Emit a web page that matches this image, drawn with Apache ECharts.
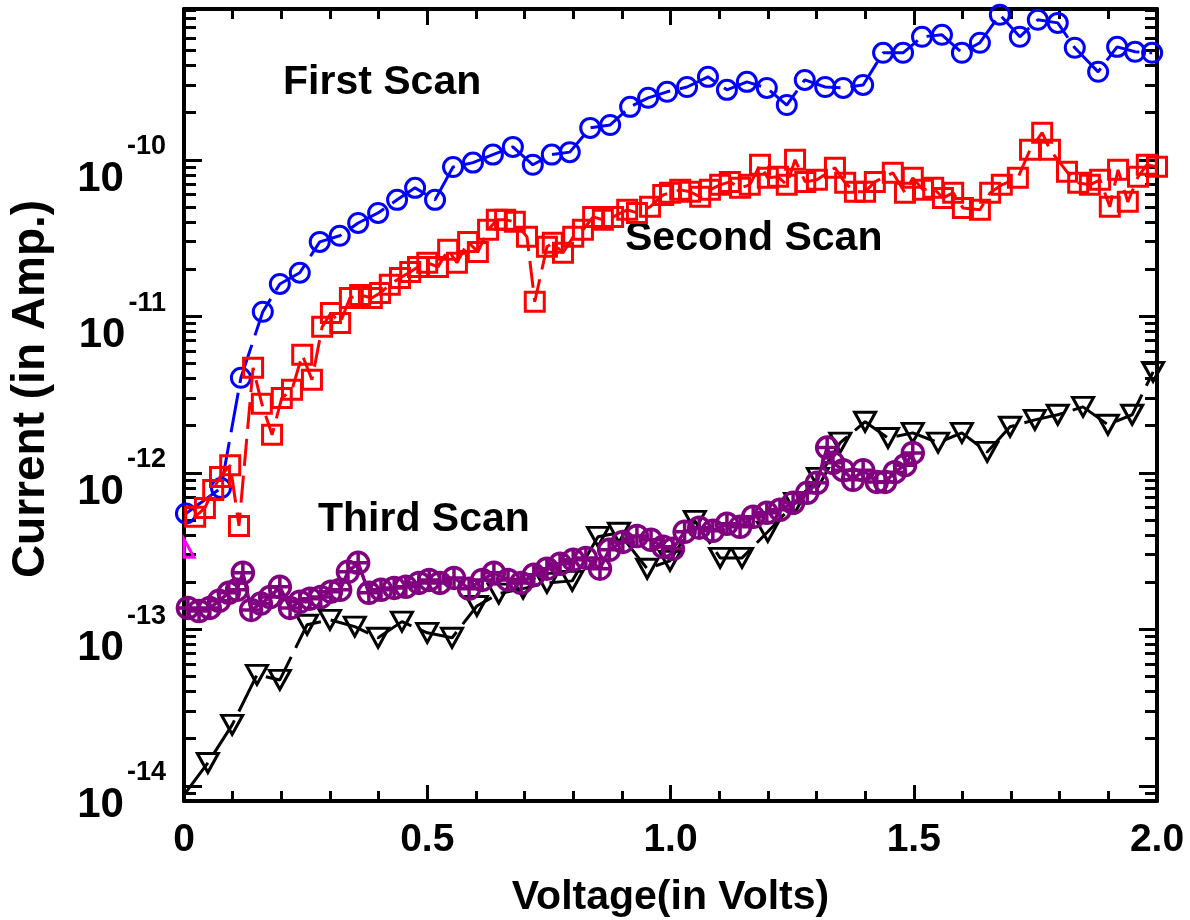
<!DOCTYPE html>
<html>
<head>
<meta charset="utf-8">
<script src="https://cdn.jsdelivr.net/npm/echarts@6/dist/echarts.min.js"></script>
<style>
  html, body { margin: 0; padding: 0; background: #fff; }
  #chart { width: 1190px; height: 920px; }
</style>
</head>
<body>
<div id="chart"></div>
<script>
// ---- Measured I–V data (voltage in V, current in A) ----
const firstV = [0.004, 0.076, 0.117, 0.162, 0.197, 0.238, 0.279, 0.320, 0.358, 0.399,
  0.438, 0.475, 0.516, 0.553, 0.594, 0.635, 0.676, 0.717, 0.756, 0.793,
  0.835, 0.876, 0.917, 0.954, 0.993, 1.034, 1.077, 1.116, 1.157, 1.198,
  1.239, 1.276, 1.318, 1.355, 1.396, 1.437, 1.478, 1.517, 1.558, 1.599,
  1.636, 1.677, 1.718, 1.755, 1.796, 1.831, 1.879, 1.918, 1.955, 1.990];
const firstI = [5.5e-13, 8.0e-13, 4.05e-12, 1.07e-11, 1.61e-11, 1.90e-11, 2.99e-11, 3.27e-11, 3.95e-11, 4.58e-11,
  5.55e-11, 6.62e-11, 5.55e-11, 9.0e-11, 9.6e-11, 1.08e-10, 1.21e-10, 9.3e-11, 1.08e-10, 1.12e-10,
  1.60e-10, 1.67e-10, 2.18e-10, 2.49e-10, 2.72e-10, 2.92e-10, 3.39e-10, 2.80e-10, 3.15e-10, 2.88e-10,
  2.24e-10, 3.24e-10, 2.92e-10, 2.88e-10, 3.01e-10, 4.83e-10, 4.83e-10, 6.11e-10, 6.29e-10, 4.83e-10,
  5.60e-10, 8.45e-10, 6.11e-10, 7.85e-10, 7.50e-10, 5.20e-10, 3.65e-10, 5.27e-10, 4.90e-10, 4.83e-10];

const secondV = [0.023, 0.043, 0.060, 0.074, 0.095, 0.113, 0.142, 0.160, 0.181, 0.201,
  0.222, 0.243, 0.263, 0.284, 0.302, 0.321, 0.341, 0.362, 0.386, 0.403,
  0.423, 0.444, 0.465, 0.481, 0.500, 0.522, 0.543, 0.561, 0.584, 0.604,
  0.625, 0.643, 0.660, 0.680, 0.705, 0.721, 0.746, 0.758, 0.779, 0.800,
  0.820, 0.841, 0.861, 0.882, 0.911, 0.931, 0.958, 0.985, 0.999, 1.020,
  1.040, 1.061, 1.081, 1.102, 1.122, 1.143, 1.163, 1.184, 1.200, 1.221,
  1.239, 1.256, 1.277, 1.301, 1.338, 1.359, 1.379, 1.400, 1.420, 1.457,
  1.482, 1.498, 1.519, 1.540, 1.560, 1.581, 1.601, 1.636, 1.657, 1.681,
  1.714, 1.739, 1.764, 1.780, 1.815, 1.838, 1.862, 1.883, 1.903, 1.920,
  1.940, 1.961, 1.979, 2.000];
const secondI = [5.24e-13, 5.97e-13, 7.78e-13, 9.42e-13, 1.12e-12, 4.58e-13, 4.69e-12, 2.76e-12, 1.75e-12, 3.01e-12,
  3.39e-12, 5.68e-12, 3.93e-12, 8.57e-12, 1.05e-11, 9.08e-12, 1.31e-11, 1.37e-11, 1.31e-11, 1.41e-11,
  1.59e-11, 1.76e-11, 1.92e-11, 2.07e-11, 2.20e-11, 2.07e-11, 2.66e-11, 2.20e-11, 2.99e-11, 2.58e-11,
  3.57e-11, 4.14e-11, 4.14e-11, 4.02e-11, 3.22e-11, 1.24e-11, 2.78e-11, 2.95e-11, 2.55e-11, 3.22e-11,
  3.57e-11, 4.32e-11, 4.14e-11, 4.32e-11, 4.80e-11, 4.58e-11, 5.01e-11, 5.97e-11, 6.15e-11, 6.43e-11,
  6.25e-11, 5.80e-11, 6.43e-11, 6.92e-11, 7.23e-11, 6.62e-11, 6.92e-11, 9.29e-11, 7.67e-11, 7.79e-11,
  6.92e-11, 1.00e-10, 7.23e-11, 7.45e-11, 8.89e-11, 7.13e-11, 6.25e-11, 6.25e-11, 7.23e-11, 8.26e-11,
  6.15e-11, 7.67e-11, 6.43e-11, 6.62e-11, 5.71e-11, 6.15e-11, 4.93e-11, 4.80e-11, 6.15e-11, 6.92e-11,
  7.67e-11, 1.16e-10, 1.49e-10, 1.16e-10, 8.38e-11, 7.13e-11, 6.92e-11, 7.45e-11, 5.01e-11, 8.63e-11,
  5.39e-11, 7.79e-11, 9.29e-11, 9.02e-11];

// first entry of the third scan starts the trace at 0 V without a marker
const thirdV = [0.000, 0.049, 0.099, 0.150, 0.197, 0.253, 0.300, 0.351, 0.399, 0.448,
  0.500, 0.551, 0.602, 0.647, 0.697, 0.746, 0.798, 0.851, 0.894, 0.952,
  0.999, 1.050, 1.102, 1.147, 1.200, 1.256, 1.303, 1.349, 1.400, 1.447,
  1.498, 1.550, 1.599, 1.651, 1.698, 1.749, 1.796, 1.848, 1.899, 1.949, 1.992];
const thirdI = [8.75e-15, 1.40e-14, 2.45e-14, 5.12e-14, 4.75e-14, 1.07e-13, 1.15e-13, 1.04e-13, 8.83e-14, 1.12e-13,
  9.50e-14, 8.83e-14, 1.41e-13, 1.69e-13, 1.82e-13, 1.98e-13, 2.04e-13, 3.90e-13, 4.14e-13, 2.44e-13,
  2.74e-13, 4.93e-13, 2.86e-13, 2.86e-13, 4.20e-13, 6.43e-13, 9.29e-13, 1.56e-12, 2.12e-12, 1.67e-12,
  1.80e-12, 1.56e-12, 1.80e-12, 1.36e-12, 1.97e-12, 2.18e-12, 2.35e-12, 2.64e-12, 2.03e-12, 2.35e-12, 4.42e-12];

const purpleV = [0.008, 0.031, 0.053, 0.072, 0.092, 0.109, 0.121, 0.138, 0.158, 0.177,
  0.197, 0.218, 0.238, 0.259, 0.281, 0.302, 0.321, 0.337, 0.358, 0.380,
  0.405, 0.432, 0.456, 0.483, 0.504, 0.526, 0.555, 0.586, 0.613, 0.637,
  0.666, 0.693, 0.719, 0.746, 0.773, 0.800, 0.826, 0.855, 0.874, 0.902,
  0.931, 0.960, 0.985, 1.005, 1.029, 1.059, 1.087, 1.116, 1.143, 1.170,
  1.198, 1.225, 1.252, 1.281, 1.301, 1.322, 1.334, 1.355, 1.375, 1.396,
  1.424, 1.441, 1.461, 1.482, 1.498];
const purpleI = [1.37e-13, 1.31e-13, 1.37e-13, 1.52e-13, 1.71e-13, 1.79e-13, 2.30e-13, 1.33e-13, 1.46e-13, 1.61e-13,
  1.87e-13, 1.37e-13, 1.50e-13, 1.57e-13, 1.61e-13, 1.74e-13, 1.79e-13, 2.33e-13, 2.66e-13, 1.71e-13,
  1.79e-13, 1.84e-13, 1.87e-13, 1.98e-13, 2.07e-13, 1.98e-13, 2.13e-13, 1.82e-13, 2.07e-13, 2.30e-13,
  2.07e-13, 1.98e-13, 2.23e-13, 2.44e-13, 2.62e-13, 2.78e-13, 2.86e-13, 2.44e-13, 3.22e-13, 3.62e-13,
  3.95e-13, 3.73e-13, 3.37e-13, 3.27e-13, 4.20e-13, 4.46e-13, 4.26e-13, 4.72e-13, 4.52e-13, 5.24e-13,
  5.55e-13, 5.80e-13, 6.43e-13, 7.45e-13, 8.63e-13, 1.45e-12, 1.16e-12, 1.04e-12, 9.02e-13, 1.04e-12,
  8.75e-13, 8.75e-13, 1.01e-12, 1.12e-12, 1.34e-12];

const magentaV = [0.0];
const magentaI = [3.3e-13];

// ---- Axis ranges and tick labels ----
const xTickValues = [0, 0.5, 1.0, 1.5, 2.0];
const xTickLabels = ['0', '0.5', '1.0', '1.5', '2.0'];
const yTickExponents = [-14, -13, -12, -11, -10];
const currentMin = 8.0e-15;
const currentMax = 9.2e-10;

// The log axis runs in femtoamperes so tick values stay clear of
// ECharts' 10-decimal rounding; labels convert back to powers of ten in A.
const FA = 1e15;
const pairs = (vs, is) => vs.map((v, i) => [v, is[i] * FA]);

const FONT = '"Liberation Sans", Arial, Helvetica, sans-serif';
const DASH = [40, 10];

const circlePlus = 'path://M10,0A10,10,0,1,1,-10,0A10,10,0,1,1,10,0ZM-10,0L10,0M0,-10L0,10';

function yLabel(v) {
  const e = Math.log10(v) - Math.log10(FA);
  const r = Math.round(e);
  if (Math.abs(e - r) > 1e-6 || yTickExponents.indexOf(r) < 0) return '';
  return '{b|10}{s|' + r + '}';
}
function xLabel(v) {
  for (let i = 0; i < xTickValues.length; i++) {
    if (Math.abs(xTickValues[i] - v) < 1e-9) return xTickLabels[i];
  }
  return '';
}

const axisLine = { show: true, onZero: false, lineStyle: { color: '#000', width: 4 } };

const xBase = {
  type: 'value', min: 0, max: 2, interval: 0.5,
  axisLine,
  axisTick: { show: true, inside: true, length: 16, lineStyle: { color: '#000', width: 3 } },
  minorTick: { show: true, splitNumber: 5, length: 10, lineStyle: { color: '#000', width: 3 } },
  splitLine: { show: false }, minorSplitLine: { show: false }
};
const yBase = {
  type: 'log', logBase: 10, min: currentMin * FA, max: currentMax * FA,
  axisLine,
  axisTick: { show: true, inside: true, length: 18, lineStyle: { color: '#000', width: 3 } },
  minorTick: { show: true, splitNumber: 9, length: 12, lineStyle: { color: '#000', width: 3 } },
  splitLine: { show: false }, minorSplitLine: { show: false }
};

const chart = echarts.init(document.getElementById('chart'), null, { renderer: 'canvas' });

chart.setOption({
  animation: false,
  backgroundColor: '#fff',
  grid: { left: 184, right: 33, top: 9, bottom: 119, containLabel: false, outerBoundsMode: 'none' },
  xAxis: [
    Object.assign({}, xBase, {
      position: 'bottom',
      name: 'Voltage(in Volts)', nameLocation: 'middle', nameGap: 76,
      nameTextStyle: { fontFamily: FONT, fontWeight: 'bold', fontSize: 41, color: '#000' },
      axisLabel: { show: true, margin: 20, formatter: xLabel,
        fontFamily: FONT, fontWeight: 'bold', fontSize: 39, color: '#000' }
    }),
    Object.assign({}, xBase, { position: 'top', axisLabel: { show: false } })
  ],
  yAxis: [
    Object.assign({}, yBase, {
      position: 'left',
      axisLabel: {
        show: true, margin: 18, formatter: yLabel, color: '#000',
        padding: [14, 0, 0, 0],
        rich: {
          b: { fontFamily: FONT, fontWeight: 'bold', fontSize: 42, color: '#000',
               padding: [25, 0, 0, 0], verticalAlign: 'bottom' },
          s: { fontFamily: FONT, fontWeight: 'bold', fontSize: 27, color: '#000',
               padding: [0, 0, 0, 3], verticalAlign: 'top' }
        }
      }
    }),
    Object.assign({}, yBase, { position: 'right', axisLabel: { show: false } })
  ],
  graphic: [
    { type: 'text', x: 31, y: 389, rotation: Math.PI / 2,
      style: { text: 'Current (in Amp.)', font: 'bold 46px ' + FONT, fill: '#000',
               align: 'center', verticalAlign: 'middle', textAlign: 'center', textVerticalAlign: 'middle' } },
    { type: 'text', x: 283, y: 83,
      style: { text: 'First Scan', font: 'bold 41px ' + FONT, fill: '#000',
               align: 'left', verticalAlign: 'middle', textAlign: 'left', textVerticalAlign: 'middle' } },
    { type: 'text', x: 625, y: 239,
      style: { text: 'Second Scan', font: 'bold 41px ' + FONT, fill: '#000',
               align: 'left', verticalAlign: 'middle', textAlign: 'left', textVerticalAlign: 'middle' } },
    { type: 'text', x: 318, y: 520,
      style: { text: 'Third Scan', font: 'bold 41px ' + FONT, fill: '#000',
               align: 'left', verticalAlign: 'middle', textAlign: 'left', textVerticalAlign: 'middle' } }
  ],
  series: [
    {
      name: 'First Scan', type: 'line', xAxisIndex: 0, yAxisIndex: 0,
      data: pairs(firstV, firstI),
      symbol: 'circle', symbolSize: 19,
      itemStyle: { color: 'rgba(0,0,0,0)', borderColor: '#0000ff', borderWidth: 3 },
      lineStyle: { color: '#0000ff', width: 3, type: DASH },
      emphasis: { disabled: true }, z: 2
    },
    {
      name: 'Second Scan', type: 'line', xAxisIndex: 0, yAxisIndex: 0,
      data: pairs(secondV, secondI),
      symbol: 'rect', symbolSize: 19,
      itemStyle: { color: 'rgba(0,0,0,0)', borderColor: '#ff0000', borderWidth: 3 },
      lineStyle: { color: '#ff0000', width: 3, type: [27, 10] },
      emphasis: { disabled: true }, z: 3
    },
    {
      name: 'Third Scan', type: 'line', xAxisIndex: 0, yAxisIndex: 0,
      data: pairs(thirdV, thirdI).map((p, i) => i === 0 ? { value: p, symbol: 'none' } : p),
      symbol: 'triangle', symbolSize: [21, 19], symbolRotate: 180,
      itemStyle: { color: 'rgba(0,0,0,0)', borderColor: '#000000', borderWidth: 3 },
      lineStyle: { color: '#000000', width: 3, type: DASH },
      emphasis: { disabled: true }, z: 4
    },
    {
      name: 'Third Scan (repeat)', type: 'line', xAxisIndex: 0, yAxisIndex: 0,
      data: pairs(purpleV, purpleI),
      symbol: circlePlus, symbolSize: 21,
      itemStyle: { color: 'rgba(0,0,0,0)', borderColor: '#800080', borderWidth: 3.5 },
      lineStyle: { color: '#800080', width: 3.5 },
      emphasis: { disabled: true }, z: 5
    },
    {
      name: 'Reference point', type: 'custom', xAxisIndex: 0, yAxisIndex: 0,
      data: pairs(magentaV, magentaI),
      renderItem: function (params, api) {
        const p = api.coord([api.value(0), api.value(1)]);
        const cs = params.coordSys;
        const pts = [[p[0] - 10, p[1] + 9], [p[0] + 10, p[1] + 9], [p[0], p[1] - 9]];
        const clipped = echarts.graphic.clipPointsByRect(pts,
          { x: cs.x, y: cs.y, width: cs.width, height: cs.height });
        return { type: 'polygon', shape: { points: clipped },
                 style: { fill: 'none', stroke: '#ff00ff', lineWidth: 3 } };
      },
      z: 1
    }
  ]
});
</script>
</body>
</html>
